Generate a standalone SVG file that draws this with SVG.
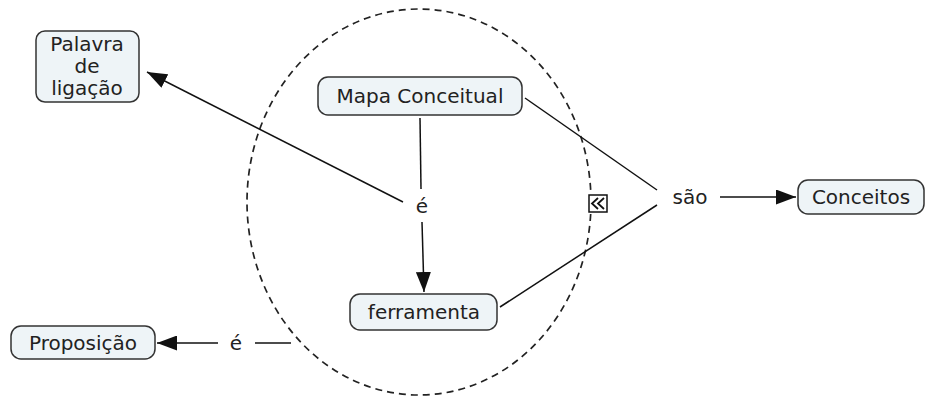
<svg xmlns="http://www.w3.org/2000/svg" width="925" height="396" viewBox="0 0 925 396">
<style>
.node rect{fill:#eef4f7;stroke:#333;stroke-width:1.5}
text{font-family:"DejaVu Sans",Verdana,sans-serif;font-size:20px;fill:#222;text-anchor:middle;dominant-baseline:central}
.c line{stroke:#111;stroke-width:1.5;fill:none}
</style>
<defs>
<marker id="ahb" viewBox="0 0 10 10" refX="10" refY="5" markerWidth="20" markerHeight="15" markerUnits="userSpaceOnUse" orient="auto" preserveAspectRatio="none">
<path d="M0,0 L10,5 L0,10 z" fill="#111"/>
</marker>
</defs>
<rect width="925" height="396" fill="#fff"/>
<ellipse cx="419" cy="202" rx="172" ry="193" fill="none" stroke="#222" stroke-width="1.7" stroke-dasharray="7,5"/>
<g class="c">
<line x1="420" y1="118" x2="421" y2="189"/>
<line x1="422" y1="222" x2="424" y2="292" marker-end="url(#ahb)"/>
<line x1="403" y1="202" x2="147" y2="72" marker-end="url(#ahb)"/>
<line x1="525" y1="98" x2="657" y2="190"/>
<line x1="500" y1="307" x2="657" y2="205"/>
<line x1="720" y1="197" x2="796" y2="197" marker-end="url(#ahb)"/>
<line x1="291" y1="343" x2="255" y2="343"/>
<line x1="218" y1="343" x2="157" y2="343" marker-end="url(#ahb)"/>
</g>
<g id="palavra" class="node"><rect x="36" y="31" width="103" height="71" rx="9"/><text x="87" y="44">Palavra</text><text x="87" y="66">de</text><text x="87" y="88">ligação</text></g>
<g id="mapa" class="node"><rect x="318" y="77" width="204" height="38" rx="10"/><text x="420" y="96">Mapa Conceitual</text></g>
<g id="conceitos" class="node"><rect x="798" y="180" width="126" height="34" rx="10"/><text x="861" y="197">Conceitos</text></g>
<g id="ferramenta" class="node"><rect x="350" y="294" width="147" height="36" rx="10"/><text x="424" y="312">ferramenta</text></g>
<g id="proposicao" class="node"><rect x="11" y="326" width="144" height="33" rx="10"/><text x="83" y="343">Proposição</text></g>
<g id="e1"><text x="422" y="206">é</text></g>
<g id="e2"><text x="236" y="343">é</text></g>
<g id="sao"><text x="690" y="197">são</text></g>
<g id="icon"><rect x="589" y="195" width="18" height="17" fill="#fff" stroke="#111" stroke-width="1.5"/><polyline points="598,198 592,203.5 598,209" fill="none" stroke="#111" stroke-width="1.8"/><polyline points="604,198 598,203.5 604,209" fill="none" stroke="#111" stroke-width="1.8"/></g>
</svg>
